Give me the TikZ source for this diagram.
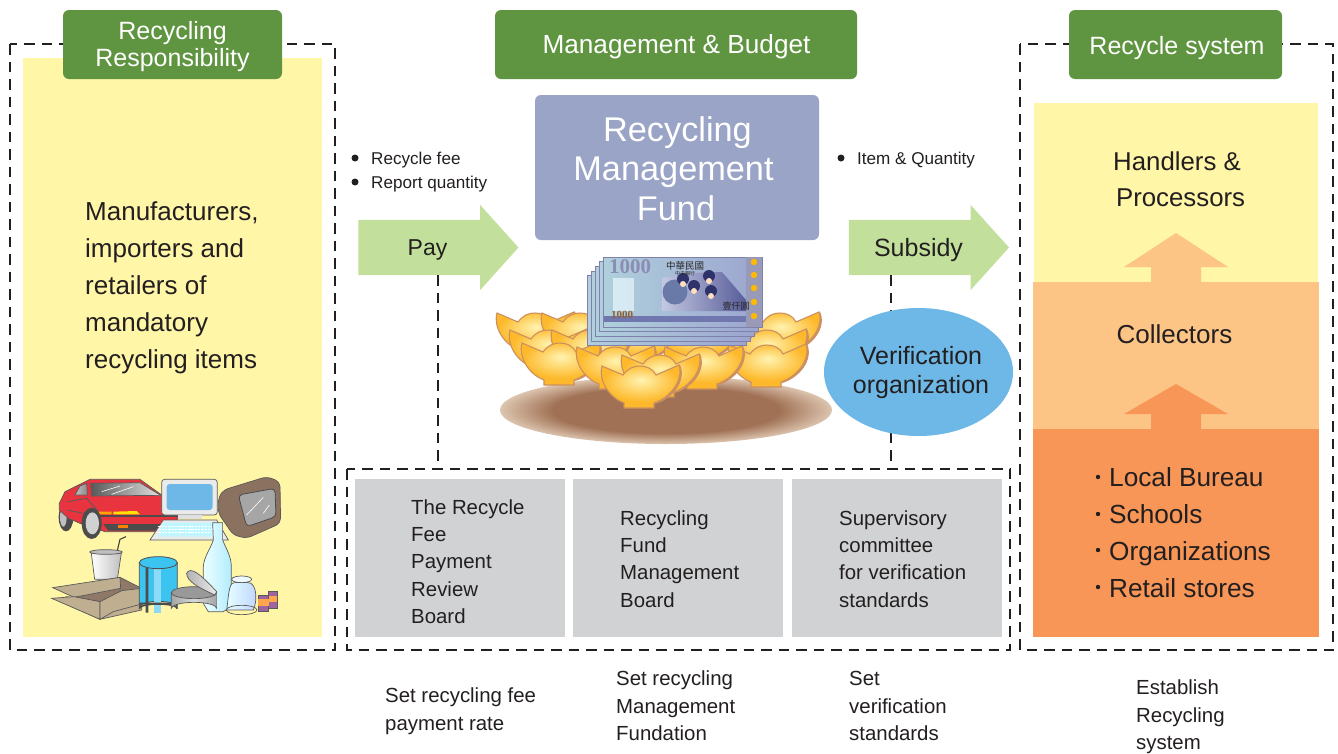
\documentclass[tikz,border=0pt]{standalone}
\usepackage{fontspec}
\setmainfont{Liberation Sans}
\newfontfamily\cjkfont{Noto Sans CJK TC}
\newfontfamily\notefont{Liberation Serif}
\usetikzlibrary{shapes.geometric,shapes.arrows}
\definecolor{ink}{HTML}{231F20}
\definecolor{hgreen}{HTML}{5F9440}
\definecolor{pale}{HTML}{FFF6A8}
\definecolor{lorange}{HTML}{FCC586}
\definecolor{dorange}{HTML}{F79657}
\definecolor{fundblue}{HTML}{9AA4C6}
\definecolor{agreen}{HTML}{C2E09B}
\definecolor{sky}{HTML}{6DB8E6}
\definecolor{boardgray}{HTML}{D0D2D3}
\definecolor{goldin}{HTML}{FFF3B0}
\definecolor{goldout}{HTML}{FDB92B}
\definecolor{goldedge}{HTML}{CC9060}
\definecolor{plateC}{HTML}{A07154}
\definecolor{plateE}{HTML}{DCC4AE}
\definecolor{noteL}{HTML}{AFD0DC}
\definecolor{noteR}{HTML}{9CA4CF}
\definecolor{noteD}{HTML}{3A3F86}
\definecolor{cartonL}{HTML}{BFAE90}
\definecolor{cartonD}{HTML}{8F7868}
\definecolor{tvbrown}{HTML}{8A7160}
\definecolor{carred}{HTML}{E8343F}
\definecolor{canblue}{HTML}{3CC4F0}
\definecolor{batt}{HTML}{9E64A0}
\pgfdeclareradialshading{plate}{\pgfpoint{0bp}{0bp}}{color(0bp)=(plateC);color(17bp)=(plateC);color(25bp)=(plateE);color(50bp)=(plateE)}
\pgfdeclareradialshading{gold}{\pgfpoint{0bp}{8bp}}{color(0bp)=(goldin);color(22bp)=(goldout);color(50bp)=(goldout)}
\tikzset{
  x=1pt,y=-1pt,
  every node/.style={text=ink,inner sep=0pt,font=\fontsize{20}{27}\selectfont},
  dashbox/.style={draw=ink,line width=1.1pt,dash pattern=on 10.5pt off 7pt},
  dashlink/.style={draw=ink,line width=1.1pt,dash pattern=on 10.5pt off 7pt},
  headerbox/.style={fill=hgreen,rounded corners=6pt},
  headertext/.style={text=white,align=center,font=\fontsize{25}{26.5}\selectfont},
  boardbox/.style={fill=boardgray},
  bigtext/.style={align=left,anchor=west,font=\fontsize{26}{37}\selectfont},
  boardtext/.style={align=left,anchor=west,font=\fontsize{20.4}{27.3}\selectfont},
  smalltext/.style={anchor=west,font=\fontsize{17.1}{20}\selectfont},
  notetext/.style={align=left,anchor=west,font=\fontsize{20.4}{27.5}\selectfont},
  greenarrow/.style={single arrow,fill=agreen,minimum height=160pt,minimum width=85pt,single arrow head extend=15pt,single arrow tip angle=96,inner xsep=0pt,inner ysep=27.5pt},
  dot/.style={circle,fill=ink,minimum size=7pt},
  ingotpath/.style={draw=goldedge,line width=1.1pt,shading=gold},
  clip line/.style={draw=black!65,line width=.7pt},
  ingot/.pic={
    \draw[draw=goldedge,line width=2pt] (37,-1) .. controls (44,14) and (30,32) .. (13,37);
    \path[ingotpath] (-40,0) -- (-19,9) .. controls (-14,2) and (-8,0) .. (-2,0) .. controls (5,0) and (11,3) .. (14,9) -- (37,-1) .. controls (42,14) and (28,32) .. (12,37) -- (12,42) -- (-18,42) -- (-18,37) .. controls (-32,32) and (-44,15) .. (-40,0) -- cycle;
  },
  banknote/.pic={
    \draw[draw=black!65!blue!50,line width=1pt,left color=noteL,right color=noteR] (0,0) rectangle (159,70);
  }
}
\begin{document}
\begin{tikzpicture}
\useasboundingbox (0,0) rectangle (1338,753);
\fill[white] (0,0) rectangle (1338,753);
% dashed frames
\draw[dashbox] (10,44) rectangle (335,650);
\draw[dashbox] (347,469) rectangle (1010,650);
\draw[dashbox] (1020,44) rectangle (1333,650);
% left panel
\fill[pale] (23,58) rectangle (322,637);
\node[headerbox,minimum width=219pt,minimum height=69pt] (hresp) at (172.5,44.5) {};
\node[headerbox,minimum width=362pt,minimum height=69pt] (hmgmt) at (676,44.5) {};
\node[headerbox,minimum width=213pt,minimum height=69pt] (hsys) at (1175.5,44.5) {};
\node[headertext] (tresp) at (172.5,46.5) {Recycling\\Responsibility};
\node[headertext,font=\fontsize{26.2}{28}\selectfont] (tmgmt) at (676.5,47) {Management \& Budget};
\node[headertext] (tsys) at (1177,48) {Recycle system};
\node[bigtext] (makers) at (85,288) {Manufacturers,\\importers and\\retailers of\\mandatory\\recycling items};
% recyclables clip art
\begin{scope}[shift={(30,460)},scale=0.3333]
  % rear wheel
  \fill[black!70] (108,172) ellipse (22 and 42);
  \fill[black!25] (100,172) ellipse (10 and 28);
  % car body
  \draw[clip line,fill=carred] (88,130) -- (105,95) -- (180,58) -- (330,58) -- (395,105) -- (445,170) -- (440,182) -- (400,215) -- (225,215) -- (150,190) -- (115,175) -- (88,150) -- cycle;
  \draw[clip line,left color=black!65,right color=black!12] (182,70) -- (330,68) -- (392,106) -- (185,108) -- cycle;
  \draw[clip line,left color=black!25,right color=black!45] (135,105) -- (172,105) -- (170,70) -- (150,78) -- cycle;
  \draw[white,line width=.6pt] (215,95) -- (270,78) (245,103) -- (310,80);
  \draw[black!65,line width=.8pt] (112,150) -- (160,160) (112,125) -- (170,115) -- (205,155);
  \fill[black!70] (205,165) rectangle (445,172);
  \fill[black!70] (220,192) -- (400,192) -- (380,212) -- (235,212) -- cycle;
  \fill[orange!70!yellow] (205,155) -- (245,155) -- (245,163) -- (210,163) -- cycle;
  \fill[yellow!85!orange] (250,155) -- (320,153) -- (330,163) -- (250,163) -- cycle;
  \fill[orange] (265,195) rectangle (293,205);
  \fill[black!70] (185,190) ellipse (30 and 47);
  \fill[black!18] (187,190) ellipse (20 and 33);
  % TV
  \draw[clip line,fill=tvbrown,rounded corners=5pt] (565,115) -- (580,90) -- (710,50) -- (750,65) -- (752,190) -- (650,235) -- (610,225) -- (565,160) -- cycle;
  \draw[black!70,fill=black!35,line width=.8pt,rounded corners=4pt] (625,105) -- (735,85) -- (738,170) -- (650,200) -- cycle;
  \draw[white,line width=.6pt] (650,165) -- (700,112) (700,160) -- (718,135);
  % monitor
  \draw[clip line,fill=black!8,rounded corners=3pt] (395,58) rectangle (562,165);
  \fill[sky,rounded corners=3pt] (410,72) rectangle (548,150);
  \fill[black!12] (445,165) rectangle (515,178);
  % keyboard
  \draw[clip line,fill=black!8] (400,180) -- (560,180) -- (595,240) -- (360,240) -- cycle;
  \fill[blue!15!cyan!25] (400,188) -- (553,188) -- (575,230) -- (385,230) -- cycle;
  \foreach \yy in {198,208,218}{\draw[white,line width=.8pt,dash pattern=on 2.5pt off .8pt] (385,\yy) -- (575,\yy);}
  % cup
  \draw[black!75,line width=1.1pt] (262,272) -- (270,238) -- (288,230);
  \draw[clip line,left color=white,right color=black!25] (184,280) -- (274,280) -- (262,358) -- (194,358) -- cycle;
  \draw[clip line,fill=black!25] (228,276) ellipse (49 and 7);
  % carton
  \draw[clip line,fill=cartonD] (105,383) -- (270,352) -- (335,385) -- (335,425) -- (210,450) -- cycle;
  \draw[clip line,fill=cartonL] (68,383) -- (270,352) -- (272,385) -- (132,412) -- cycle;
  \draw[clip line,fill=cartonL] (108,432) -- (210,478) -- (335,450) -- (335,420) -- (210,425) -- (108,410) -- cycle;
  \draw[clip line,fill=cartonL] (65,415) -- (132,410) -- (210,425) -- (210,478) -- cycle;
  \draw[clip line,fill=cartonL] (210,478) -- (210,425) -- (275,392) -- (335,385) -- (335,432) -- (250,455) -- cycle;
  % can
  \draw[black!70,line width=.8pt,fill=canblue] (328,308) -- (328,442) arc[start angle=180,end angle=360,x radius=57,y radius=18] -- (442,308) -- cycle;
  \fill[white!55!cyan] (372,322) rectangle (392,460);
  \fill[black!70] (347,322) rectangle (355,458) (328,428) rectangle (442,434);
  \draw[black!70,line width=1.5pt] (328,446) arc[start angle=180,end angle=360,x radius=57,y radius=14];
  \draw[black!70,line width=.8pt,fill=canblue] (385,308) ellipse (57 and 18);
  % bottle
  \draw[clip line,left color=white!70!cyan!25,right color=blue!25!cyan!30] (548,188) -- (578,188) -- (578,240) .. controls (590,270) and (604,290) .. (604,320) -- (604,440) -- (580,455) -- (535,455) -- (520,430) -- (520,320) .. controls (522,290) and (540,270) .. (550,240) -- cycle;
  % tin
  \draw[clip line,left color=black!35,right color=black!35,middle color=black!15] (424,398) -- (424,445) arc[start angle=180,end angle=360,x radius=68,y radius=18] -- (560,398) -- cycle;
  \draw[clip line,fill=black!40] (492,398) ellipse (68 and 18);
  \draw[clip line,left color=black!30,right color=black!8] (470,340) .. controls (480,320) and (505,335) .. (560,395) -- (555,405) .. controls (510,385) and (470,365) .. (470,340) -- cycle;
  % jar
  \draw[clip line,left color=white!60!cyan!25,right color=cyan!35!blue!25] (605,372) .. controls (605,365) and (665,365) .. (665,372) .. controls (682,385) and (680,430) .. (670,450) -- (600,450) -- (590,450) .. controls (595,420) and (595,385) .. (605,372) -- cycle;
  \draw[clip line,fill=white!70!cyan!20] (635,358) ellipse (30 and 10);
  \draw[clip line] (635,450) ellipse (46 and 14);
  % batteries
  \draw[clip line,fill=batt] (714,395) rectangle (742,445);
  \fill[orange!70] (714,408) rectangle (742,425);
  \draw[clip line,fill=batt] (684,405) rectangle (716,455);
  \fill[orange!70] (684,418) rectangle (716,438);
\end{scope}
% fund
\node[fill=fundblue,rounded corners=6pt,minimum width=284pt,minimum height=145pt] (fund) at (677,167.5) {};
\node[text=white,align=center,font=\fontsize{34.3}{39.5}\selectfont] (fundtext) at (673.5,168.5) {\hspace*{8pt}Recycling\\Management\\\hspace*{5pt}Fund};
% plate and ingots
\path[shading=plate] (666,410) ellipse (166 and 34);
\foreach \px/\py in {537/313,582/313,640/320,700/320,782/313,550/330,592/330,769/330,562/343,769/345,705/347,617/347,662/355}{\pic at (\px,\py) {ingot};}
\pic at (642,366) {ingot};
% bank notes
\foreach \k in {4,3,2,1,0}{\pic at (603-4*\k,257+4.7*\k) {banknote};}
\shade[left color=noteR!60!white,right color=noteD!85] (662,278) -- (690,273) -- (722,272) -- (746,300) -- (746,311) -- (662,311) -- cycle;
\fill[noteD!60!noteL] (675,292) circle (12.5);
\foreach \hx/\hy in {683/279,694/286,709/276,711/291}{\fill[noteD!80!black] (\hx,\hy) circle (6);\fill[orange!25!white] (\hx,\hy+5) circle (3);}
\fill[noteD!45!noteR] (603.5,316) rectangle (746,322);
\fill[black!70!blue!40] (746,257) rectangle (762,327);
\foreach \gy in {262,275,288,302,316}{\fill[orange!55!yellow] (754,\gy) circle (3.2);}
\fill[white!70!cyan!30,opacity=.7] (613,278) rectangle (634,311);
\node[anchor=west,text=black!65!blue!45,font=\notefont\bfseries\fontsize{21}{21}\selectfont] (bn1) at (609,267) {1000};
\node[anchor=west,text=brown!75!black,font=\notefont\bfseries\fontsize{11}{11}\selectfont] (bn2) at (611,315) {1000};
\node[text=black!85,font=\cjkfont\fontsize{9.5}{9.5}\selectfont] (bn3) at (685,266) {中華民國};
\node[text=black!85,font=\cjkfont\fontsize{5}{5}\selectfont] (bn4) at (685,274) {中央銀行};
\node[text=black!85,font=\cjkfont\fontsize{9}{9}\selectfont] (bn5) at (736,306) {壹仟圓};
% pay / subsidy arrows
\node[greenarrow] (payarrow) at (426,247.5) {};
\node[greenarrow] (subarrow) at (916.5,247.5) {};
\node[font=\fontsize{23}{23}\selectfont] (pay) at (427.5,250) {Pay};
\node[font=\fontsize{25}{25}\selectfont] (subsidy) at (918.5,250) {Subsidy};
\coordinate (payfoot) at (438,275);
\coordinate (subfoot) at (891,275);
\coordinate (payend) at (438,468);
\coordinate (subend) at (891,468);
\draw[dashlink] (payfoot) -- (payend);
\draw[dashlink] (subfoot) -- (subend);
% bullets
\node[dot] (d1) at (355,158) {};
\node[dot] (d2) at (355,182) {};
\node[dot] (d3) at (841,158) {};
\node[smalltext] (t1) at (371,160) {Recycle fee};
\node[smalltext] (t2) at (371,184) {Report quantity};
\node[smalltext] (t3) at (857,160) {Item \& Quantity};
% verification
\node[ellipse,fill=sky,minimum width=189pt,minimum height=128pt] (verify) at (918.5,372) {};
\node[align=center,font=\fontsize{25}{29}\selectfont] (verifytext) at (921,373) {Verification\\organization};
% boards
\node[boardbox,minimum width=210pt,minimum height=158pt] (b1) at (460,558) {};
\node[boardbox,minimum width=210pt,minimum height=158pt] (b2) at (678,558) {};
\node[boardbox,minimum width=210pt,minimum height=158pt] (b3) at (897,558) {};
\node[boardtext] (bt1) at (411,561.5) {The Recycle\\Fee\\Payment\\Review\\Board};
\node[boardtext] (bt2) at (620,559) {Recycling\\Fund\\Management\\Board};
\node[boardtext] (bt3) at (839,559) {Supervisory\\committee\\for verification\\standards};
% notes below
\node[notetext] (n1) at (385,711) {Set recycling fee\\payment rate};
\node[notetext] (n2) at (616,706) {Set recycling\\Management\\Fundation};
\node[notetext] (n3) at (849,706) {Set\\verification\\standards};
\node[notetext] (n4) at (1136,717) {Establish\\Recycling\\system};
% recycle system tiers
\node[fill=pale,minimum width=284pt,minimum height=179pt] (tier3) at (1176,192.5) {};
\node[fill=lorange,minimum width=286pt,minimum height=147pt] (tier2) at (1176,355.5) {};
\node[fill=dorange,minimum width=286pt,minimum height=208pt] (tier1) at (1176,533) {};
\fill[lorange] (1176,233) -- (1228,267) -- (1201,267) -- (1201,283) -- (1151,283) -- (1151,267) -- (1124,267) -- cycle;
\fill[dorange] (1176,384) -- (1228,414) -- (1201,414) -- (1201,430) -- (1151,430) -- (1151,414) -- (1124,414) -- cycle;
\node[align=center,font=\fontsize{25.8}{36.5}\selectfont] (handlers) at (1177,179.5) {Handlers \&\\\ Processors};
\node[font=\fontsize{26}{26}\selectfont] (collectors) at (1174.5,334) {Collectors};
\foreach \yy in {477,514,550,587}{\fill[ink] (1098,\yy) circle (2.2);}
\node[bigtext,font=\fontsize{26.2}{37}\selectfont] (l1) at (1109,532.2) {Local Bureau\\Schools\\Organizations\\Retail stores};
\end{tikzpicture}
\end{document}
